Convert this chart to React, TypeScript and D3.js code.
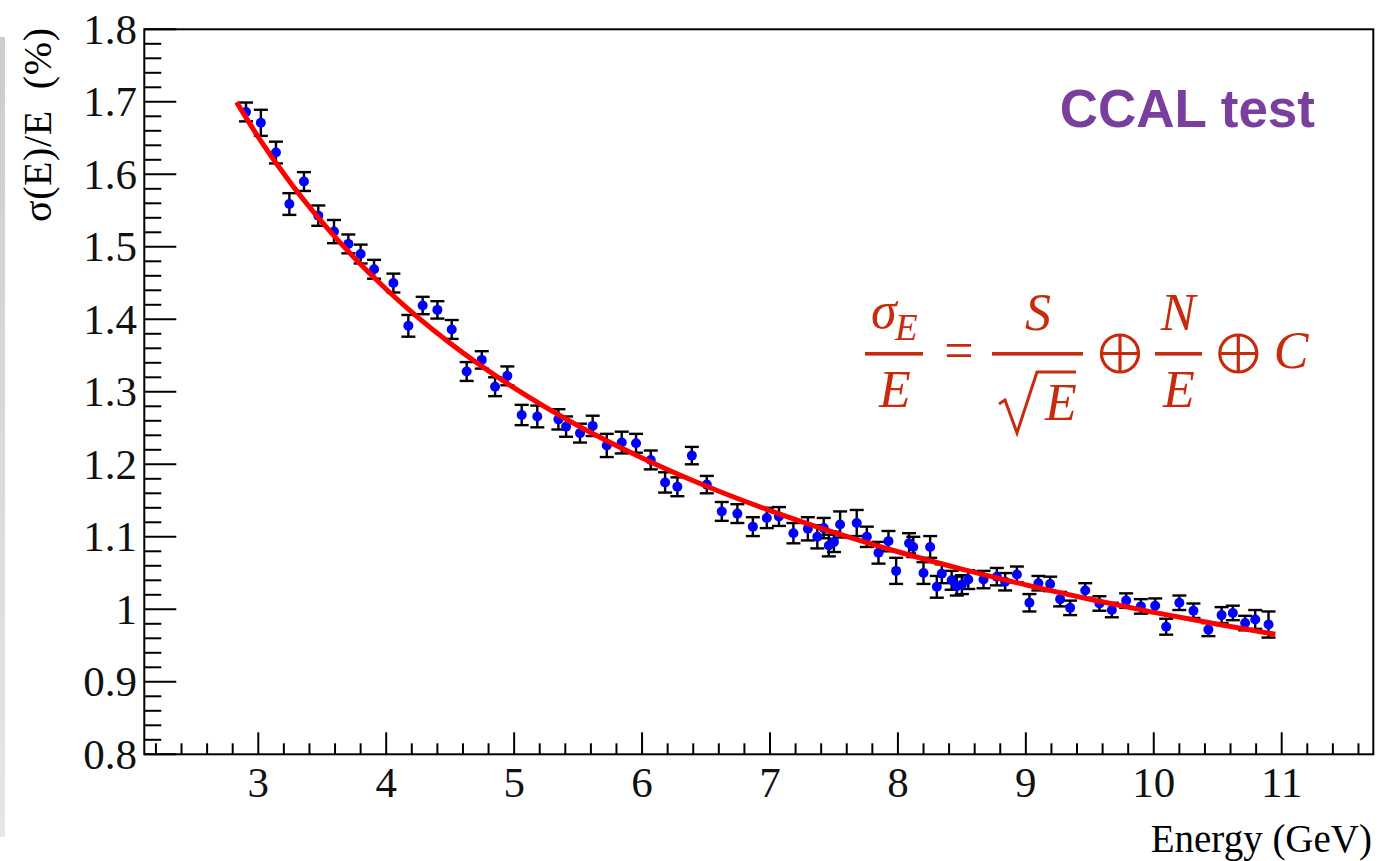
import React from "react";
import * as d3 from "d3";

// measured points: beam energy (GeV), relative resolution (%), error (%)
const energy = [
  2.904, 3.02, 3.138, 3.243, 3.357, 3.469, 3.592, 3.704, 3.8, 3.905,
  4.056, 4.173, 4.285, 4.4, 4.512, 4.629, 4.747, 4.851, 4.947, 5.059,
  5.181, 5.346, 5.406, 5.515, 5.614, 5.724, 5.841, 5.953, 6.068, 6.18,
  6.276, 6.389, 6.506, 6.623, 6.745, 6.866, 6.975, 7.07, 7.183, 7.296,
  7.37, 7.42, 7.46, 7.5, 7.548, 7.678, 7.757, 7.848, 7.926, 7.986,
  8.087, 8.12, 8.2, 8.252, 8.304, 8.343, 8.42, 8.46, 8.5, 8.55,
  8.669, 8.773, 8.838, 8.93, 9.028, 9.098, 9.19, 9.268, 9.346, 9.464,
  9.575, 9.672, 9.784, 9.899, 10.011, 10.097, 10.2, 10.31, 10.427, 10.53,
  10.618, 10.714, 10.793, 10.897,
];
const resolution = [
  1.686, 1.671, 1.63, 1.559, 1.59, 1.543, 1.521, 1.504, 1.49, 1.469,
  1.45, 1.391, 1.419, 1.413, 1.386, 1.328, 1.344, 1.307, 1.322, 1.268,
  1.266, 1.262, 1.252, 1.243, 1.253, 1.226, 1.23, 1.229, 1.206, 1.175,
  1.169, 1.212, 1.172, 1.135, 1.132, 1.114, 1.126, 1.128, 1.105, 1.111,
  1.1, 1.112, 1.088, 1.093, 1.117, 1.119, 1.1, 1.078, 1.094, 1.053,
  1.091, 1.086, 1.05, 1.086, 1.031, 1.049, 1.04, 1.032, 1.034, 1.041,
  1.041, 1.045, 1.038, 1.048, 1.009, 1.036, 1.035, 1.014, 1.002, 1.026,
  1.008, 0.999, 1.012, 1.004, 1.005, 0.976, 1.009, 0.998, 0.972, 0.992,
  0.995, 0.981, 0.986, 0.979,
];
const errors = [
  0.013, 0.018, 0.015, 0.015, 0.013, 0.014, 0.016, 0.013, 0.013, 0.013,
  0.013, 0.015, 0.012, 0.012, 0.013, 0.013, 0.012, 0.013, 0.013, 0.014,
  0.015, 0.014, 0.014, 0.013, 0.014, 0.016, 0.015, 0.013, 0.013, 0.014,
  0.013, 0.012, 0.012, 0.013, 0.013, 0.013, 0.014, 0.013, 0.014, 0.016,
  0.016, 0.014, 0.015, 0.014, 0.018, 0.018, 0.014, 0.015, 0.014, 0.018,
  0.014, 0.014, 0.015, 0.015, 0.015, 0.013, 0.013, 0.013, 0.013, 0.013,
  0.012, 0.012, 0.012, 0.011, 0.012, 0.01, 0.01, 0.01, 0.01, 0.01,
  0.01, 0.01, 0.01, 0.01, 0.01, 0.011, 0.01, 0.01, 0.009, 0.011,
  0.01, 0.01, 0.013, 0.018,
];

// fit curve
const fitEnergy = [
  2.83, 3.0, 3.25, 3.5, 3.75, 4.0, 4.25, 4.5, 5.0, 5.5, 6.0,
  6.5, 7.0, 7.5, 8.0, 8.5, 9.0, 9.5, 10.0, 10.5, 10.95,
];
const fitResolution = [
  1.6995, 1.6514, 1.5886, 1.5336, 1.4849, 1.4414, 1.4023, 1.3669, 1.3053, 1.2532, 1.2088,
  1.1701, 1.1362, 1.1062, 1.0794, 1.0554, 1.0337, 1.0139, 0.9958, 0.9793, 0.9655,
];

const xTicks = [3, 4, 5, 6, 7, 8, 9, 10, 11];
const yTicks = [0.8, 0.9, 1.0, 1.1, 1.2, 1.3, 1.4, 1.5, 1.6, 1.7, 1.8];

const W = 1399;
const H = 861;
const left = 144.3;
const right = 1373.3;
const top = 29.3;
const bottom = 754.3;

const serif = "'Liberation Serif', 'Times New Roman', serif";
const red = "#c82a0c";

function OPlus({ cx, cy }: { cx: number; cy: number }) {
  const r = 18.5;
  return (
    <g stroke={red} strokeWidth={3.2} fill="none">
      <circle cx={cx} cy={cy} r={r} />
      <line x1={cx - r} x2={cx + r} y1={cy} y2={cy} />
      <line x1={cx} x2={cx} y1={cy - r} y2={cy + r} />
    </g>
  );
}

export default function App() {
  const x = d3.scaleLinear().domain([2.109, 11.716]).range([left, right]);
  const y = d3.scaleLinear().domain([0.8, 1.8]).range([bottom, top]);

  const xMinor = d3.range(2.2, 11.7, 0.2).filter((v) => Math.abs(v - Math.round(v)) > 0.01);
  const yMinor = d3.range(0.8, 1.8001, 0.02).filter((v) => Math.abs(v * 10 - Math.round(v * 10)) > 0.01);

  const fitLine = d3
    .line<number>()
    .x((d, i) => x(fitEnergy[i]))
    .y((d) => y(d))
    .curve(d3.curveMonotoneX)(fitResolution);

  const fmt = d3.format("~g");
  const cap = 7;

  return (
    <svg
      width={W}
      height={H}
      style={{ position: "absolute", left: 0, top: 0, display: "block", background: "#fff" }}
    >
      <defs>
        <linearGradient id="strip" x1="0" y1="0" x2="0" y2="1">
          <stop offset="0" stopColor="#cdcdcd" />
          <stop offset="1" stopColor="#e6e6e8" />
        </linearGradient>
      </defs>
      <rect x={0} y={37} width={5} height={800} fill="url(#strip)" />

      {/* frame */}
      <rect x={left} y={top} width={right - left} height={bottom - top} fill="none" stroke="#000" strokeWidth={2} />

      {/* ticks */}
      <g stroke="#000" strokeWidth={2}>
        {yTicks.map((t) => (
          <line key={"ym" + t} x1={left} x2={left + 32} y1={y(t)} y2={y(t)} />
        ))}
        {yMinor.map((t) => (
          <line key={"yn" + t} x1={left} x2={left + 17} y1={y(t)} y2={y(t)} />
        ))}
        {xTicks.map((t) => (
          <line key={"xm" + t} x1={x(t)} x2={x(t)} y1={bottom} y2={bottom - 22} />
        ))}
        {xMinor.map((t) => (
          <line key={"xn" + t} x1={x(t)} x2={x(t)} y1={bottom} y2={bottom - 11} />
        ))}
      </g>

      {/* tick labels */}
      <g fontFamily={serif} fontSize={43} fill="#111">
        {yTicks.map((t) => (
          <text key={"yl" + t} x={137} y={y(t)} dy="0.34em" textAnchor="end">
            {fmt(t)}
          </text>
        ))}
        {xTicks.map((t) => (
          <text key={"xl" + t} x={x(t)} y={797} textAnchor="middle">
            {t}
          </text>
        ))}
      </g>

      {/* axis titles */}
      <text
        transform="translate(51,28) rotate(-90)"
        textAnchor="end"
        fontFamily={serif}
        fontSize={40}
        textLength={194}
        lengthAdjust="spacing"
      >
        {"σ(E)/E\u00A0\u00A0(%)"}
      </text>
      <text x={1372} y={852} textAnchor="end" fontFamily={serif} fontSize={39}>
        Energy (GeV)
      </text>

      {/* error bars */}
      <g stroke="#000" strokeWidth={2.4}>
        {energy.map((e, i) => {
          const cx = x(e);
          const y1 = y(resolution[i] - errors[i]);
          const y2 = y(resolution[i] + errors[i]);
          return (
            <g key={"eb" + i}>
              <line x1={cx} x2={cx} y1={y1} y2={y2} />
              <line x1={cx - cap} x2={cx + cap} y1={y1} y2={y1} />
              <line x1={cx - cap} x2={cx + cap} y1={y2} y2={y2} />
            </g>
          );
        })}
      </g>

      {/* points */}
      <g fill="#0000ff">
        {energy.map((e, i) => (
          <circle key={"pt" + i} cx={x(e)} cy={y(resolution[i])} r={5} />
        ))}
      </g>

      {/* fit */}
      <path d={fitLine || ""} fill="none" stroke="#ff0000" strokeWidth={5} />

      {/* label */}
      <text
        x={1315}
        y={127}
        textAnchor="end"
        fontFamily="'Liberation Sans', Arial, sans-serif"
        fontWeight="bold"
        fontSize={53}
        fill="#7a3e9d"
      >
        CCAL test
      </text>

      {/* resolution formula */}
      <g fontFamily={serif} fontStyle="italic" fill={red}>
        <text x={871} y={328} fontSize={52}>σ</text>
        <text x={895} y={340} fontSize={37}>E</text>
        <rect x={865} y={352} width={58} height={3.6} />
        <text x={895} y={406.5} fontSize={52} textAnchor="middle">E</text>

        <text x={959} y={368} fontSize={52} fontStyle="normal" textAnchor="middle">=</text>

        <text x={1038} y={330} fontSize={52} textAnchor="middle">S</text>
        <rect x={992} y={352} width={91} height={3.6} />
        <path
          d="M999,404 L1005,400 L1017,433 L1037,372 L1076,372"
          fill="none"
          stroke={red}
          strokeWidth={3}
          strokeLinejoin="miter"
        />
        <text x={1061} y={420} fontSize={52} textAnchor="middle">E</text>

        <text x={1178} y={330} fontSize={52} textAnchor="middle">N</text>
        <rect x={1155} y={352} width={47} height={3.6} />
        <text x={1179} y={406.5} fontSize={52} textAnchor="middle">E</text>

        <text x={1291} y={368} fontSize={52} textAnchor="middle">C</text>
      </g>
      <OPlus cx={1120} cy={353.5} />
      <OPlus cx={1238.3} cy={353.5} />
    </svg>
  );
}
